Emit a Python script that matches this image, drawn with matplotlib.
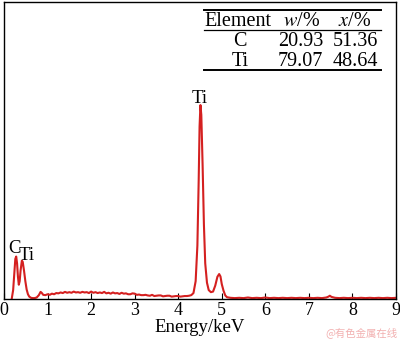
import matplotlib
matplotlib.use("Agg")
import matplotlib.pyplot as plt
from matplotlib.lines import Line2D

# EDS spectrum (energy in keV, counts in arbitrary units)
energy = [0.18, 0.21, 0.24, 0.26, 0.28, 0.30, 0.32, 0.34, 0.36, 0.38, 0.41, 0.43, 0.46,
          0.49, 0.52, 0.55, 0.58, 0.62, 0.66, 0.70, 0.75, 0.80, 0.84, 0.87, 0.90, 0.95,
          1.00, 1.05, 1.10, 1.15, 1.20, 1.25, 1.30, 1.35, 1.40, 1.45, 1.50, 1.55, 1.60,
          1.65, 1.70, 1.75, 1.80, 1.85, 1.90, 1.95, 2.00, 2.05, 2.10, 2.15, 2.20, 2.25,
          2.30, 2.35, 2.40, 2.45, 2.50, 2.55, 2.60, 2.65, 2.70, 2.75, 2.80, 2.85, 2.90,
          2.95, 3.00, 3.05, 3.10, 3.15, 3.20, 3.25, 3.30, 3.35, 3.40, 3.45, 3.50, 3.55,
          3.60, 3.65, 3.70, 3.75, 3.80, 3.85, 3.90, 3.95, 4.00, 4.05, 4.10, 4.15, 4.20,
          4.25, 4.30, 4.35, 4.40, 4.44, 4.47, 4.49, 4.51, 4.53, 4.56, 4.59, 4.62, 4.66,
          4.70, 4.75, 4.80, 4.85, 4.90, 4.94, 4.97, 5.00, 5.04, 5.08, 5.12, 5.20, 5.30,
          5.40, 5.50, 5.60, 5.70, 5.80, 5.90, 6.00, 6.10, 6.20, 6.30, 6.40, 6.50, 6.60,
          6.70, 6.80, 6.90, 7.00, 7.10, 7.20, 7.30, 7.40, 7.45, 7.48, 7.52, 7.60, 7.70,
          7.80, 7.90, 8.00, 8.10, 8.20, 8.30, 8.40, 8.50, 8.60, 8.70, 8.80, 8.90, 9.00]
counts = [0.3, 3.0, 9.5, 13.5, 14.3, 12.0, 7.5, 4.8, 6.0, 9.5, 12.9, 12.5, 9.5,
          6.0, 3.2, 1.6, 0.8, 0.4, 0.3, 0.3, 0.5, 1.3, 2.4, 2.0, 1.4, 1.3,
          1.6, 1.4, 1.8, 1.6, 2.0, 1.9, 2.2, 2.0, 2.4, 2.1, 2.3, 2.1, 2.5,
          2.2, 2.3, 2.1, 2.4, 2.2, 2.3, 2.0, 2.5, 2.1, 2.3, 2.0, 2.2, 2.0,
          2.4, 1.9, 2.1, 1.8, 2.2, 1.9, 2.0, 1.7, 2.1, 1.8, 1.9, 1.6, 1.6,
          1.9, 1.8, 1.4, 1.5, 1.3, 1.3, 1.4, 1.2, 1.1, 1.4, 1.0, 1.1, 1.2,
          1.2, 0.9, 1.0, 1.1, 1.1, 0.8, 0.9, 1.0, 1.0, 0.8, 0.9, 1.0, 1.0,
          1.1, 1.3, 2.0, 6.0, 18.0, 40.0, 58.0, 65.3, 62.0, 45.0, 25.0, 12.0, 5.5,
          3.0, 2.3, 2.5, 4.5, 7.5, 8.4, 7.6, 5.0, 2.8, 1.2, 0.6, 0.4, 0.3,
          0.4, 0.3, 0.5, 0.3, 0.4, 0.3, 0.5, 0.3, 0.4, 0.3, 0.4, 0.3, 0.4,
          0.3, 0.4, 0.3, 0.4, 0.3, 0.4, 0.3, 0.5, 0.8, 1.1, 0.7, 0.4, 0.3,
          0.4, 0.3, 0.4, 0.3, 0.4, 0.3, 0.4, 0.3, 0.4, 0.3, 0.4, 0.3, 0.4]

xticks = [0, 1, 2, 3, 4, 5, 6, 7, 8, 9]

# peak labels: (text, energy, count, alignment)
peaks = [("C", 0.10, 15.5, "left"), ("Ti", 0.34, 13.1, "left"), ("Ti", 4.50, 66.0, "center")]

# composition table
elements = ["C", "Ti"]
w_pct = ["20.93", "79.07"]
x_pct = ["51.36", "48.64"]

W, H = 400, 343
plt.rcParams["font.family"] = ["Liberation Serif", "DejaVu Serif"]
plt.rcParams["mathtext.fontset"] = "stix"

fig = plt.figure(figsize=(W / 100, H / 100), dpi=100)
ax = fig.add_axes([4 / W, 1 - 299 / H, 392 / W, 297 / H])

red = "#d42020"
ax.plot(energy, counts, color=red, lw=1.5)
ax.set_xlim(0, 9)
ax.set_ylim(0, 100)
ax.set_xticks(xticks)
ax.set_yticks([])
ax.tick_params(axis="x", direction="in", length=4, width=0.8, labelsize=13, pad=2)
for s in ax.spines.values():
    s.set_linewidth(1.0)
ax.set_xlabel("Energy/keV", fontsize=13.5, labelpad=0)

for t, e, c, ha in peaks:
    ax.text(e, c, t, fontsize=13.5, ha=ha, va="baseline")


def fy(py):
    return 1 - py / H


# table with three horizontal rules
fig.add_artist(Line2D([204 / W, 381 / W], [fy(10), fy(10)], color="k", lw=1.4))
fig.add_artist(Line2D([204 / W, 381 / W], [fy(30), fy(30)], color="k", lw=0.9))
fig.add_artist(Line2D([204 / W, 381 / W], [fy(70), fy(70)], color="k", lw=1.4))
fs = 14.5
fig.text(238 / W, fy(26.5), "Element", fontsize=fs, ha="center", va="baseline")
fig.text(320 / W, fy(26.5), r"$w$/%", fontsize=fs, ha="right", va="baseline")
fig.text(371 / W, fy(26.5), r"$x$/%", fontsize=fs, ha="right", va="baseline")
for i, (el, w, x) in enumerate(zip(elements, w_pct, x_pct)):
    by = 45.5 + 20 * i
    fig.text(240 / W, fy(by), el, fontsize=fs, ha="center", va="baseline")
    fig.text(323 / W, fy(by), w, fontsize=fs, ha="right", va="baseline")
    fig.text(378 / W, fy(by), x, fontsize=fs, ha="right", va="baseline")

fig.text(398 / W, fy(336), "@有色金属在线", fontsize=7.5, color="#f2b0b0",
         ha="right", va="baseline", family=["Noto Sans CJK SC", "DejaVu Sans"])

fig.savefig("out.png", dpi=100)
